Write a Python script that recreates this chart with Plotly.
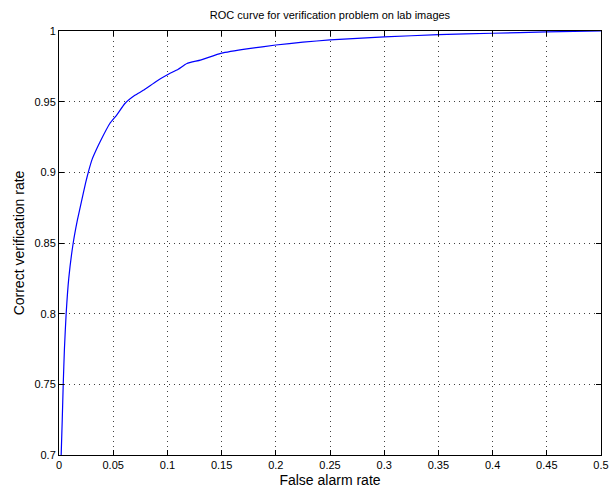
import plotly.graph_objects as go

fpr = [0.0020, 0.0030, 0.0039, 0.0050, 0.0066, 0.0090, 0.0131, 0.0169, 0.0209, 0.0246,
       0.0270, 0.0307, 0.0347, 0.0378, 0.0470, 0.0532, 0.0608, 0.0700, 0.0777, 0.0900,
       0.1000, 0.1100, 0.1180, 0.1304, 0.1500, 0.1750, 0.2000, 0.2250, 0.2500, 0.3000,
       0.3500, 0.4000, 0.4500, 0.5000]
tpr = [0.700, 0.725, 0.750, 0.775, 0.800, 0.825, 0.850, 0.866, 0.880, 0.8927,
       0.900, 0.9095, 0.9165, 0.9215, 0.9347, 0.9405, 0.9487, 0.9545, 0.958, 0.9645,
       0.969, 0.973, 0.977, 0.9794, 0.9843, 0.9875, 0.9901, 0.9921, 0.9937, 0.9958,
       0.9974, 0.9984, 0.9994, 1.000]

x_ticks = [0, 0.05, 0.1, 0.15, 0.2, 0.25, 0.3, 0.35, 0.4, 0.45, 0.5]
x_labels = ["0", "0.05", "0.1", "0.15", "0.2", "0.25", "0.3", "0.35", "0.4", "0.45", "0.5"]
y_ticks = [0.7, 0.75, 0.8, 0.85, 0.9, 0.95, 1.0]
y_labels = ["0.7", "0.75", "0.8", "0.85", "0.9", "0.95", "1"]

FONT = "Liberation Sans, Arial, Helvetica"

fig = go.Figure()
fig.add_trace(go.Scatter(x=fpr, y=tpr, mode="lines", line_shape="spline",
                         line=dict(color="#0000ff", width=1.2, smoothing=0.4), showlegend=False))

axis_common = dict(showline=True, linecolor="black", linewidth=1, mirror="ticks",
                   ticks="inside", ticklen=5, tickcolor="black", showgrid=True,
                   gridcolor="rgba(0,0,0,0.75)", gridwidth=1, griddash="1px,4px",
                   zeroline=False, automargin=False,
                   tickfont=dict(family=FONT, size=11, color="black"))

fig.update_xaxes(range=[0, 0.5], tickvals=x_ticks, ticktext=x_labels,
                 title=dict(text="False alarm rate", font=dict(family=FONT, size=14, color="black"), standoff=4),
                 **axis_common)
fig.update_yaxes(range=[0.7, 1.0], tickvals=y_ticks, ticktext=y_labels,
                 title=dict(text="Correct verification rate", font=dict(family=FONT, size=14, color="black"), standoff=6),
                 **axis_common)

fig.update_layout(
    width=614, height=494,
    margin=dict(l=59, r=13, t=31, b=39, autoexpand=False),
    paper_bgcolor="white", plot_bgcolor="white",
    title=dict(text="ROC curve for verification problem on lab images",
               font=dict(family=FONT, size=11, color="black"),
               x=0.5, xref="paper", xanchor="center", y=1 - 15/494, yanchor="middle"),
)

fig.write_html("out.html", config={"displayModeBar": False},
               post_script="document.body.style.margin='0';document.body.style.overflow='hidden';")
